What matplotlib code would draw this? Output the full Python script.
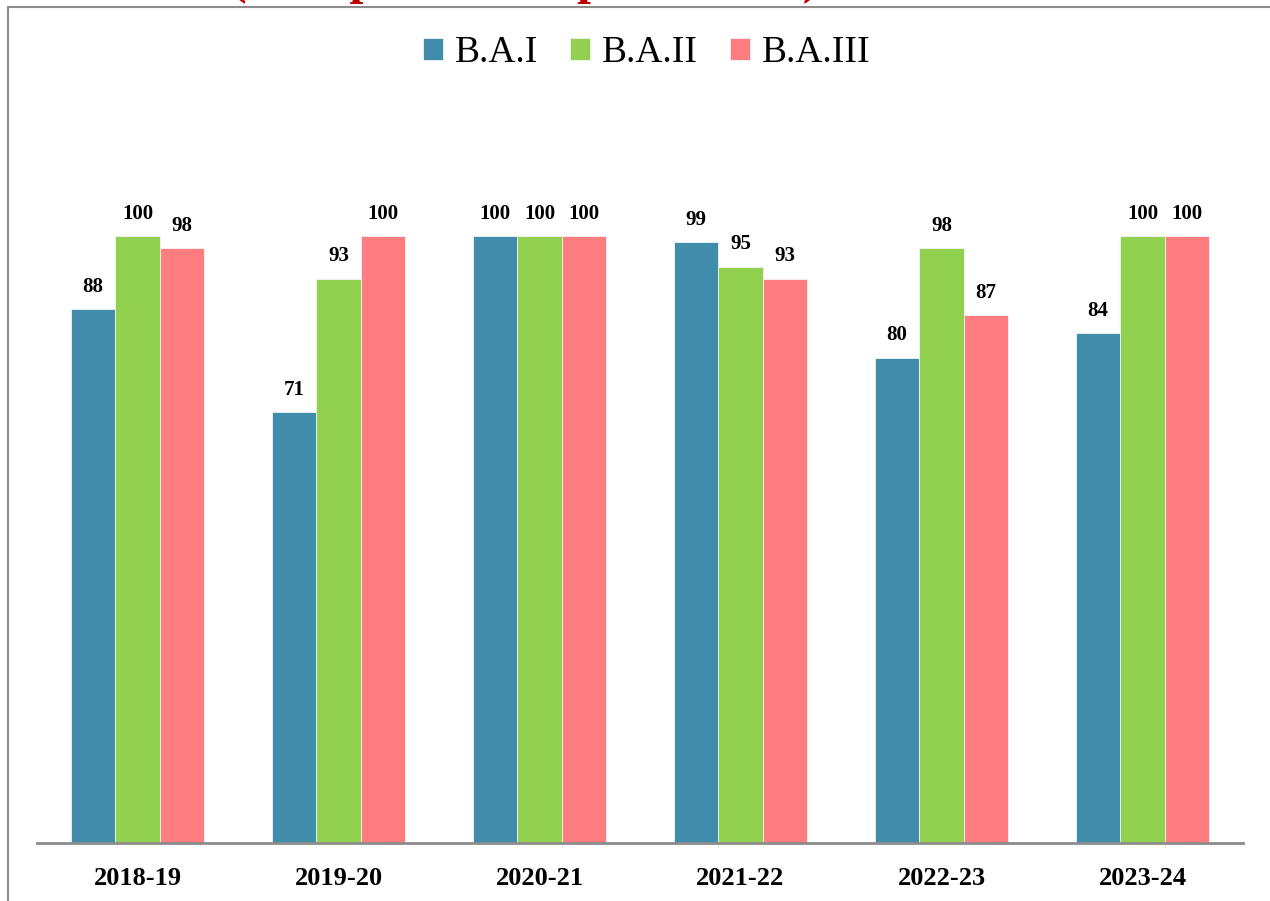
import matplotlib.pyplot as plt
import numpy as np

sessions = ["2018-19", "2019-20", "2020-21", "2021-22", "2022-23", "2023-24"]
series_names = ["B.A.I", "B.A.II", "B.A.III"]
ba1 = [88, 71, 100, 99, 80, 84]
ba2 = [100, 93, 100, 95, 98, 100]
ba3 = [98, 100, 100, 93, 87, 100]
colors = ["#3F8DAA", "#92D050", "#FF7C80"]

plt.rcParams['font.family'] = ['Liberation Serif', 'DejaVu Serif']

fig = plt.figure(figsize=(12.7, 9.01), dpi=100)
ax = fig.add_axes([0.0291, 0.0644, 0.9496, 0.808])

x = np.arange(len(sessions))
w = 0.221
for i, (vals, name, c) in enumerate(zip([ba1, ba2, ba3], series_names, colors)):
    bars = ax.bar(x + (i - 1) * w, vals, w, color=c, label=name,
                  edgecolor="#f4f4f4", linewidth=0.6)
    for b, v in zip(bars, vals):
        ax.annotate(str(v), (b.get_x() + b.get_width() / 2, v),
                    xytext=(0, 9), textcoords="offset points",
                    ha="center", va="bottom", fontsize=15, fontweight="bold")

ax.set_xlim(-0.5, len(sessions) - 0.5)
ax.set_ylim(0, 120)
ax.set_xticks(x)
ax.set_xticklabels(sessions, fontsize=19, fontweight="bold")
ax.tick_params(axis="x", length=0, pad=17.5)
ax.set_yticks([])
for s in ["top", "right", "left"]:
    ax.spines[s].set_visible(False)
ax.spines["bottom"].set_color("#8c8c8c")
ax.spines["bottom"].set_linewidth(2)

leg = fig.legend(loc="center", bbox_to_anchor=(0.509, 0.941), ncol=3, frameon=False,
                 fontsize=27, handlelength=0.55, handleheight=0.55,
                 handletextpad=0.3, columnspacing=0.85)

# outer chart frame (left and top edges visible)
fig.add_artist(plt.Line2D([0.0066, 0.0066], [0, 0.9925], transform=fig.transFigure,
                          color="#8c8c8c", linewidth=1.5))
fig.add_artist(plt.Line2D([0.0066, 1.0], [0.9925, 0.9925], transform=fig.transFigure,
                          color="#8c8c8c", linewidth=1.5))

# title sits above the visible area; only its lower edge shows
fig.text(0.413, 1.0075, "(Comparison of pass result)", color="#C00000",
         fontsize=36, fontweight="bold", ha="center", va="baseline")

fig.savefig("out.png", dpi=100)
